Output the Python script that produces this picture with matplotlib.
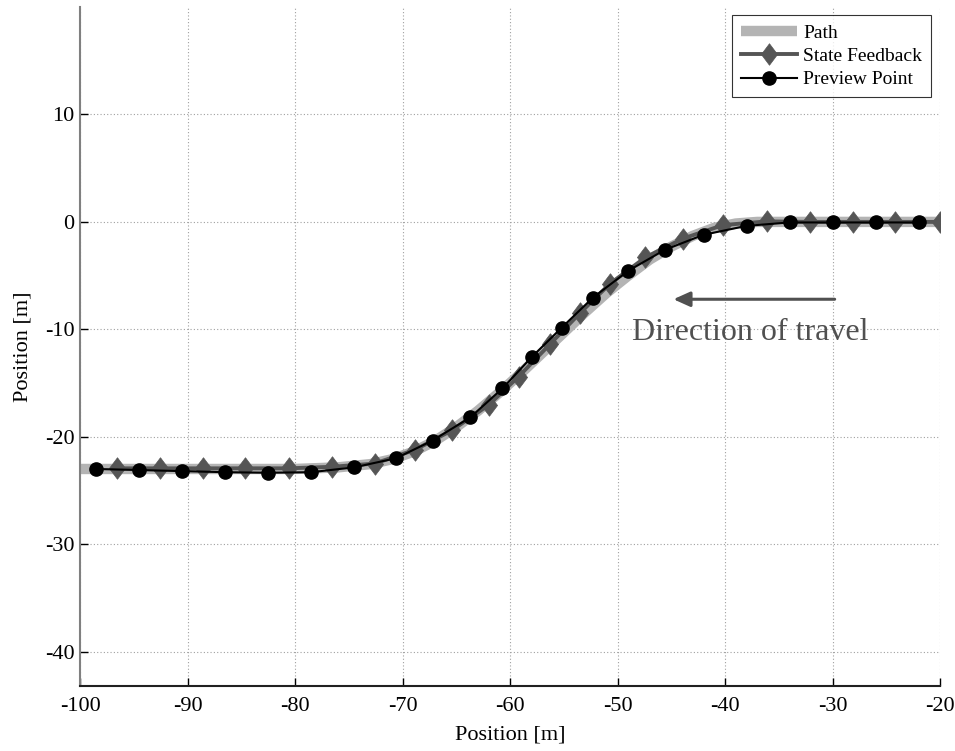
import matplotlib

matplotlib.use("Agg")
import matplotlib.pyplot as plt

# --------------------------------------------------------------------------- #
# Data (metres)
# --------------------------------------------------------------------------- #
path_x = [-100, -90, -80, -76, -73, -71, -69, -67, -65, -63, -61, -59, -57,
          -55, -53, -51, -49, -47, -45, -43, -41, -39, -37, -20]
path_y = [-23.0, -23.0, -23.0, -22.85, -22.55, -22.1, -21.4, -20.4, -19.1,
          -17.6, -15.9, -14.1, -12.2, -10.3, -8.4, -6.6, -5.0, -3.5, -2.3,
          -1.3, -0.55, -0.15, 0.0, 0.0]

feedback_x = [-96.6, -92.6, -88.6, -84.65, -80.6, -76.6, -72.6, -68.8, -65.4,
              -62.0, -59.2, -56.3, -53.5, -50.7, -47.4, -43.9, -40.2, -36.1,
              -32.1, -28.1, -24.2, -20.0]
feedback_y = [-22.94, -22.94, -22.94, -22.94, -22.94, -22.8, -22.5, -21.2,
              -19.4, -17.05, -14.4, -11.4, -8.5, -5.75, -3.3, -1.55, -0.3,
              0.05, 0.0, 0.0, 0.0, 0.0]

preview_x = [-98.5, -94.5, -90.5, -86.5, -82.5, -78.5, -74.5, -70.6, -67.2,
             -63.7, -60.7, -58.0, -55.2, -52.3, -49.0, -45.6, -42.0, -38.0,
             -34.0, -30.0, -26.0, -22.0]
preview_y = [-23.0, -23.1, -23.2, -23.3, -23.35, -23.3, -22.85, -22.0, -20.35,
             -18.2, -15.5, -12.6, -9.85, -7.06, -4.55, -2.6, -1.2, -0.37,
             -0.05, -0.05, -0.05, -0.05]

x_ticks = [-100, -90, -80, -70, -60, -50, -40, -30, -20]
y_ticks = [-40, -30, -20, -10, 0, 10]

plt.rcParams["font.family"] = ["Liberation Serif", "DejaVu Serif"]
plt.rcParams["axes.unicode_minus"] = False

# a diamond a bit wider than matplotlib's thin "d"
DIAMOND = [(-0.75, 0), (0, 1), (0.75, 0), (0, -1), (-0.75, 0)]

fig = plt.figure(figsize=(9.55, 7.51), dpi=100)
ax = fig.add_axes([0.0838, 0.0866, 0.9005, 0.904])

ax.plot(path_x, path_y, color="#b4b4b4", lw=7.5, solid_capstyle="butt",
        label="Path", zorder=2)
ax.plot(feedback_x, feedback_y, color="#555555", lw=2.8, marker=DIAMOND,
        markersize=15.5, markeredgewidth=0.5, label="State Feedback", zorder=3)
ax.plot(preview_x, preview_y, color="black", lw=1.5, marker="o",
        markersize=9.5, label="Preview Point", zorder=4)

# direction annotation
ax.annotate("", xy=(-44.8, -7.2), xytext=(-29.8, -7.2),
            arrowprops=dict(arrowstyle="-|>,head_length=1.0,head_width=0.45",
                            color="#505050", lw=2.2, shrinkA=0, shrinkB=0))
ax.text(-48.65, -11.0, "Direction of travel", fontsize=23, color="#505050",
        ha="left", va="baseline")

ax.set_xlim(-100, -20)
ax.set_ylim(-43.2, 20)
ax.set_xticks(x_ticks)
ax.set_yticks(y_ticks)
ax.tick_params(direction="in", length=6, width=1, labelsize=16)
ax.tick_params(axis="x", pad=8)
ax.tick_params(axis="y", pad=4)
ax.grid(True, linestyle=(0, (1, 2)), color="#a0a0a0", lw=0.8)
ax.set_axisbelow(True)

for side in ("top", "right"):
    ax.spines[side].set_visible(False)
ax.spines["left"].set_color("#808080")
ax.spines["left"].set_linewidth(1.5)
ax.spines["bottom"].set_color("#202020")
ax.spines["bottom"].set_linewidth(1.5)

ax.set_xlabel("Position [m]", fontsize=16, labelpad=7)
ax.set_ylabel("Position [m]", fontsize=16, labelpad=9)

leg = ax.legend(loc="upper right", bbox_to_anchor=(0.9895, 0.988), fontsize=14,
                frameon=True, fancybox=False, edgecolor="black",
                handlelength=2.9, handletextpad=0.3, borderpad=0.45,
                labelspacing=0.3, borderaxespad=0)
leg.get_frame().set_linewidth(0.8)

fig.savefig("out.png", dpi=100)
